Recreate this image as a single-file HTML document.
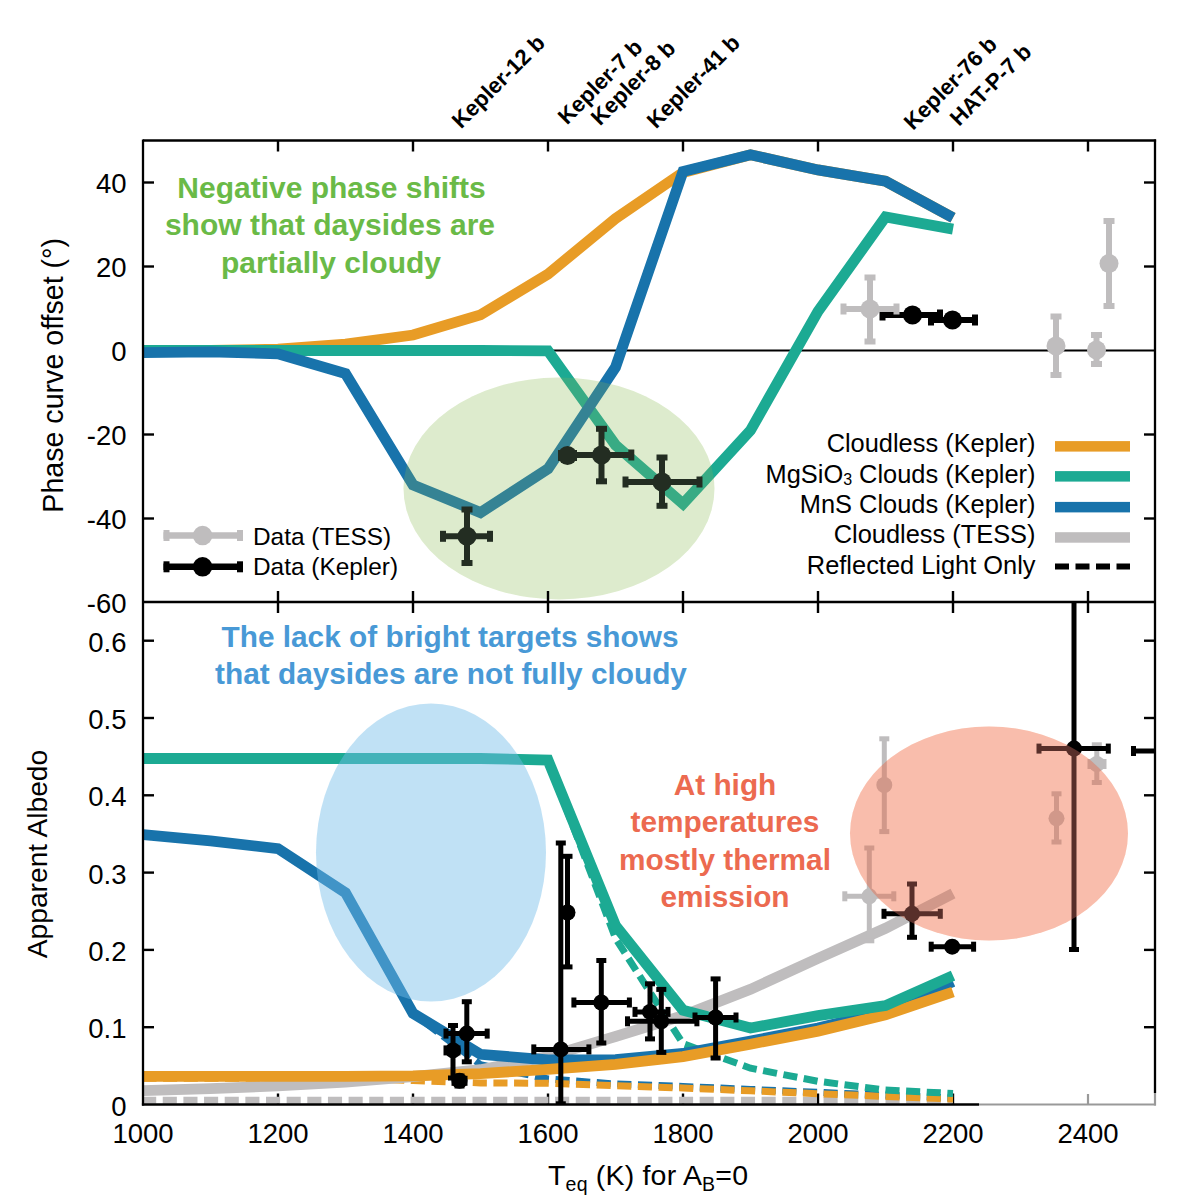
<!DOCTYPE html>
<html><head><meta charset="utf-8">
<style>
html,body{margin:0;padding:0;background:#fff;width:1200px;height:1200px;overflow:hidden}
svg{display:block}
text{font-family:"Liberation Sans",sans-serif}
.b{font-weight:bold}
</style></head><body>
<svg width="1200" height="1200" viewBox="0 0 1200 1200">
<rect width="1200" height="1200" fill="#fff"/>

<defs><clipPath id="cu"><rect x="143" y="140.5" width="1012" height="461.5"/></clipPath><clipPath id="cl"><rect x="143" y="602" width="1012" height="502.5"/></clipPath></defs>
<line x1="143" y1="350.5" x2="1155" y2="350.5" stroke="#000" stroke-width="2.2"/>
<g clip-path="url(#cu)">
<polyline points="143.0,350.5 210.5,350.5 278.0,349.2 345.5,344.2 413.0,335.0 480.5,314.8 548.0,274.1 615.5,218.6 683.0,172.4 750.5,154.8 818.0,169.9 885.5,181.2 953.0,217.8" fill="none" stroke="#e89c26" stroke-width="10.8" stroke-linejoin="miter" stroke-miterlimit="3"/>
<polyline points="143.0,350.5 210.5,350.5 278.0,350.5 345.5,350.5 413.0,350.5 480.5,350.5 548.0,350.9 615.5,445.0 683.0,503.8 750.5,430.3 818.0,311.4 885.5,216.9 953.0,229.1" fill="none" stroke="#1caa93" stroke-width="10.8" stroke-linejoin="miter" stroke-miterlimit="3"/>
<polyline points="143.0,352.6 210.5,351.8 278.0,353.9 345.5,373.6 413.0,484.9 480.5,512.6 548.0,468.9 615.5,367.3 683.0,171.6 750.5,154.8 818.0,169.9 885.5,181.2 953.0,217.8" fill="none" stroke="#1873ab" stroke-width="10.8" stroke-linejoin="miter" stroke-miterlimit="3"/>
<line x1="443.0" y1="536.3" x2="490.0" y2="536.3" stroke="#000" stroke-width="6"/>
<rect x="440.0" y="530.8" width="6" height="11" fill="#000"/>
<rect x="487.0" y="530.8" width="6" height="11" fill="#000"/>
<line x1="467.0" y1="509.5" x2="467.0" y2="563.0" stroke="#000" stroke-width="6"/>
<rect x="461.5" y="506.5" width="11" height="6" fill="#000"/>
<rect x="461.5" y="560.0" width="11" height="6" fill="#000"/>
<circle cx="467.0" cy="536.3" r="9.5" fill="#000"/>
<line x1="561.0" y1="455.5" x2="574.0" y2="455.5" stroke="#000" stroke-width="6"/>
<rect x="558.0" y="450.0" width="6" height="11" fill="#000"/>
<rect x="571.0" y="450.0" width="6" height="11" fill="#000"/>
<circle cx="567.5" cy="455.5" r="9.5" fill="#000"/>
<line x1="567.5" y1="455.0" x2="631.3" y2="455.0" stroke="#000" stroke-width="6"/>
<rect x="564.5" y="449.5" width="6" height="11" fill="#000"/>
<rect x="628.3" y="449.5" width="6" height="11" fill="#000"/>
<line x1="601.5" y1="428.8" x2="601.5" y2="481.3" stroke="#000" stroke-width="6"/>
<rect x="596.0" y="425.8" width="11" height="6" fill="#000"/>
<rect x="596.0" y="478.3" width="11" height="6" fill="#000"/>
<circle cx="601.5" cy="455.0" r="9.5" fill="#000"/>
<line x1="625.5" y1="482.0" x2="699.5" y2="482.0" stroke="#000" stroke-width="6"/>
<rect x="622.5" y="476.5" width="6" height="11" fill="#000"/>
<rect x="696.5" y="476.5" width="6" height="11" fill="#000"/>
<line x1="662.0" y1="457.5" x2="662.0" y2="505.8" stroke="#000" stroke-width="6"/>
<rect x="656.5" y="454.5" width="11" height="6" fill="#000"/>
<rect x="656.5" y="502.8" width="11" height="6" fill="#000"/>
<circle cx="662.0" cy="482.0" r="9.5" fill="#000"/>
<line x1="882.5" y1="315.0" x2="940.0" y2="315.0" stroke="#000" stroke-width="6"/>
<rect x="879.5" y="309.5" width="6" height="11" fill="#000"/>
<rect x="937.0" y="309.5" width="6" height="11" fill="#000"/>
<circle cx="912.5" cy="315.0" r="9.5" fill="#000"/>
<line x1="931.0" y1="320.0" x2="975.0" y2="320.0" stroke="#000" stroke-width="6"/>
<rect x="928.0" y="314.5" width="6" height="11" fill="#000"/>
<rect x="972.0" y="314.5" width="6" height="11" fill="#000"/>
<circle cx="952.5" cy="320.0" r="9.5" fill="#000"/>
<line x1="843.5" y1="309.0" x2="896.5" y2="309.0" stroke="#bfbdbe" stroke-width="6"/>
<rect x="840.5" y="303.5" width="6" height="11" fill="#bfbdbe"/>
<rect x="893.5" y="303.5" width="6" height="11" fill="#bfbdbe"/>
<line x1="870.0" y1="277.5" x2="870.0" y2="341.5" stroke="#bfbdbe" stroke-width="6"/>
<rect x="864.5" y="274.5" width="11" height="6" fill="#bfbdbe"/>
<rect x="864.5" y="338.5" width="11" height="6" fill="#bfbdbe"/>
<circle cx="870.0" cy="309.0" r="9.5" fill="#bfbdbe"/>
<line x1="1056.0" y1="316.5" x2="1056.0" y2="375.0" stroke="#bfbdbe" stroke-width="6"/>
<rect x="1050.5" y="313.5" width="11" height="6" fill="#bfbdbe"/>
<rect x="1050.5" y="372.0" width="11" height="6" fill="#bfbdbe"/>
<circle cx="1056.0" cy="346.0" r="9.5" fill="#bfbdbe"/>
<line x1="1096.5" y1="335.0" x2="1096.5" y2="364.0" stroke="#bfbdbe" stroke-width="6"/>
<rect x="1091.0" y="332.0" width="11" height="6" fill="#bfbdbe"/>
<rect x="1091.0" y="361.0" width="11" height="6" fill="#bfbdbe"/>
<circle cx="1096.5" cy="350.0" r="9.5" fill="#bfbdbe"/>
<line x1="1109.0" y1="221.0" x2="1109.0" y2="306.0" stroke="#bfbdbe" stroke-width="6"/>
<rect x="1103.5" y="218.0" width="11" height="6" fill="#bfbdbe"/>
<rect x="1103.5" y="303.0" width="11" height="6" fill="#bfbdbe"/>
<circle cx="1109.0" cy="263.5" r="9.5" fill="#bfbdbe"/>
<ellipse cx="559" cy="488.5" rx="155.5" ry="111" fill="rgb(248,254,228)" style="mix-blend-mode:multiply"/>
<ellipse cx="559" cy="488.5" rx="155.5" ry="111" fill="rgb(140,180,136)" fill-opacity="0.25"/>
</g>
<g class="b" font-size="30" fill="#6aba47" text-anchor="middle">
<text x="331.5" y="197.8">Negative phase shifts</text>
<text x="330" y="235.2">show that daysides are</text>
<text x="331" y="272.5">partially cloudy</text>
</g>
<g font-size="25.4" fill="#000" text-anchor="end">
<text x="1035.5" y="452.3">Cloudless (Kepler)</text>
<text x="1035.5" y="482.6">MgSiO<tspan font-size="16" dy="2">3</tspan><tspan dy="-2"> Clouds (Kepler)</tspan></text>
<text x="1035.5" y="512.9">MnS Clouds (Kepler)</text>
<text x="1035.5" y="543.2">Cloudless (TESS)</text>
<text x="1035.5" y="573.5">Reflected Light Only</text>
</g>
<rect x="1055" y="441.1" width="75" height="10.5" fill="#e89c26"/>
<rect x="1055" y="471.1" width="75" height="10.5" fill="#1caa93"/>
<rect x="1055" y="501.9" width="75" height="10.5" fill="#1873ab"/>
<rect x="1055" y="532.2" width="75" height="10.5" fill="#bfbdbe"/>
<line x1="1055" y1="566.6" x2="1130" y2="566.6" stroke="#000" stroke-width="6" stroke-dasharray="14,6.5"/>
<line x1="163.5" y1="535.6" x2="243" y2="535.6" stroke="#bfbdbe" stroke-width="6.5"/>
<rect x="163.5" y="530" width="6" height="11" fill="#bfbdbe"/><rect x="237" y="530" width="6" height="11" fill="#bfbdbe"/>
<circle cx="202.6" cy="535.6" r="9.75" fill="#bfbdbe"/>
<line x1="163.5" y1="566.8" x2="243" y2="566.8" stroke="#000" stroke-width="6.5"/>
<rect x="163.5" y="561.3" width="6" height="11" fill="#000"/><rect x="237" y="561.3" width="6" height="11" fill="#000"/>
<circle cx="202.6" cy="566.8" r="9.75" fill="#000"/>
<g font-size="24.4" fill="#000">
<text x="253" y="544.7">Data (TESS)</text>
<text x="253" y="575">Data (Kepler)</text>
</g>
<g stroke="#000" stroke-width="2.4">
<line x1="278.0" y1="1104.5" x2="278.0" y2="1093.5"/>
<line x1="413.0" y1="1104.5" x2="413.0" y2="1093.5"/>
<line x1="548.0" y1="1104.5" x2="548.0" y2="1093.5"/>
<line x1="683.0" y1="1104.5" x2="683.0" y2="1093.5"/>
<line x1="818.0" y1="1104.5" x2="818.0" y2="1093.5"/>
<line x1="953.0" y1="1104.5" x2="953.0" y2="1093.5"/>
</g>
<g clip-path="url(#cl)">
<polyline points="143.0,1100.2 210.5,1100.2 278.0,1100.2 345.5,1100.2 413.0,1100.2 480.5,1100.2 548.0,1100.2 615.5,1100.2 683.0,1100.2 750.5,1100.2 818.0,1100.2 885.5,1100.2 953.0,1100.2" fill="none" stroke="#bfbdbe" stroke-width="7" stroke-linejoin="miter" stroke-miterlimit="3" stroke-dasharray="14.1,6.55" stroke-dashoffset="0.90"/>
<polyline points="143.0,834.7 210.5,840.9 278.0,848.6 345.5,892.7 413.0,1013.3 480.5,1064.7 548.0,1079.0 615.5,1084.0 683.0,1086.5 750.5,1089.4 818.0,1092.3 885.5,1095.2 953.0,1097.9" fill="none" stroke="#1873ab" stroke-width="7" stroke-linejoin="miter" stroke-miterlimit="3" stroke-dasharray="14.1,6.55" stroke-dashoffset="0.36"/>
<polyline points="143.0,1078.2 210.5,1078.2 278.0,1078.2 345.5,1078.2 413.0,1080.5 480.5,1082.9 548.0,1083.3 615.5,1085.7 683.0,1088.0 750.5,1090.8 818.0,1093.7 885.5,1096.4 953.0,1099.1" fill="none" stroke="#e89c26" stroke-width="7" stroke-linejoin="miter" stroke-miterlimit="3" stroke-dasharray="14.1,6.55" stroke-dashoffset="0.56"/>
<polyline points="143.0,758.5 210.5,758.5 278.0,758.5 345.5,758.5 413.0,758.5 480.5,758.5 548.0,760.1 615.5,938.3 683.0,1043.7 750.5,1068.2 818.0,1081.3 885.5,1090.0 953.0,1093.5" fill="none" stroke="#1caa93" stroke-width="7" stroke-linejoin="miter" stroke-miterlimit="3" stroke-dasharray="14.1,6.55" stroke-dashoffset="20.59"/>
<polyline points="143.0,1090.6 210.5,1088.7 278.0,1085.9 345.5,1082.1 413.0,1076.7 480.5,1069.7 548.0,1056.6 615.5,1036.5 683.0,1015.6 750.5,989.3 818.0,958.4 885.5,928.3 953.0,893.5" fill="none" stroke="#bfbdbe" stroke-width="10.8" stroke-linejoin="miter" stroke-miterlimit="3"/>
<polyline points="143.0,834.7 210.5,840.9 278.0,848.6 345.5,892.7 413.0,1013.3 480.5,1054.3 548.0,1060.0 615.5,1059.7 683.0,1053.5 750.5,1041.1 818.0,1028.0 885.5,1011.7 953.0,981.6" fill="none" stroke="#1873ab" stroke-width="10.8" stroke-linejoin="miter" stroke-miterlimit="3"/>
<polyline points="143.0,1076.3 210.5,1076.3 278.0,1076.3 345.5,1076.3 413.0,1075.9 480.5,1073.6 548.0,1069.3 615.5,1064.3 683.0,1056.6 750.5,1044.2 818.0,1031.1 885.5,1014.8 953.0,992.0" fill="none" stroke="#e89c26" stroke-width="10.8" stroke-linejoin="miter" stroke-miterlimit="3"/>
<polyline points="143.0,758.5 210.5,758.5 278.0,758.5 345.5,758.5 413.0,758.5 480.5,758.5 548.0,760.1 615.5,925.5 683.0,1010.2 750.5,1028.0 818.0,1015.6 885.5,1005.6 953.0,975.6" fill="none" stroke="#1caa93" stroke-width="10.8" stroke-linejoin="miter" stroke-miterlimit="3"/>
<line x1="884.3" y1="738.8" x2="884.3" y2="831.6" stroke="#bfbdbe" stroke-width="5"/>
<rect x="879.3" y="736.3" width="10" height="5" fill="#bfbdbe"/>
<rect x="879.3" y="829.1" width="10" height="5" fill="#bfbdbe"/>
<circle cx="884.3" cy="785.0" r="8" fill="#bfbdbe"/>
<line x1="844.8" y1="896.3" x2="893.8" y2="896.3" stroke="#bfbdbe" stroke-width="5"/>
<rect x="842.3" y="891.3" width="5" height="10" fill="#bfbdbe"/>
<rect x="891.3" y="891.3" width="5" height="10" fill="#bfbdbe"/>
<line x1="869.3" y1="848.0" x2="869.3" y2="940.8" stroke="#bfbdbe" stroke-width="5"/>
<rect x="864.3" y="845.5" width="10" height="5" fill="#bfbdbe"/>
<rect x="864.3" y="938.3" width="10" height="5" fill="#bfbdbe"/>
<circle cx="869.3" cy="896.3" r="8" fill="#bfbdbe"/>
<line x1="1056.5" y1="793.8" x2="1056.5" y2="842.0" stroke="#bfbdbe" stroke-width="5"/>
<rect x="1051.5" y="791.3" width="10" height="5" fill="#bfbdbe"/>
<rect x="1051.5" y="839.5" width="10" height="5" fill="#bfbdbe"/>
<circle cx="1056.5" cy="818.3" r="8" fill="#bfbdbe"/>
<line x1="1090.0" y1="764.0" x2="1104.0" y2="764.0" stroke="#bfbdbe" stroke-width="5"/>
<rect x="1087.5" y="759.0" width="5" height="10" fill="#bfbdbe"/>
<rect x="1101.5" y="759.0" width="5" height="10" fill="#bfbdbe"/>
<line x1="1096.8" y1="744.8" x2="1096.8" y2="782.5" stroke="#bfbdbe" stroke-width="5"/>
<rect x="1091.8" y="742.3" width="10" height="5" fill="#bfbdbe"/>
<rect x="1091.8" y="780.0" width="10" height="5" fill="#bfbdbe"/>
<circle cx="1096.8" cy="764.0" r="8" fill="#bfbdbe"/>
<line x1="446.0" y1="1033.6" x2="487.2" y2="1033.6" stroke="#000" stroke-width="5"/>
<rect x="443.5" y="1028.6" width="5" height="10" fill="#000"/>
<rect x="484.7" y="1028.6" width="5" height="10" fill="#000"/>
<line x1="466.8" y1="1001.7" x2="466.8" y2="1061.8" stroke="#000" stroke-width="5"/>
<rect x="461.8" y="999.2" width="10" height="5" fill="#000"/>
<rect x="461.8" y="1059.3" width="10" height="5" fill="#000"/>
<circle cx="466.8" cy="1033.6" r="8" fill="#000"/>
<line x1="446.0" y1="1050.4" x2="458.0" y2="1050.4" stroke="#000" stroke-width="5"/>
<rect x="443.5" y="1045.4" width="5" height="10" fill="#000"/>
<rect x="455.5" y="1045.4" width="5" height="10" fill="#000"/>
<line x1="453.0" y1="1025.5" x2="453.0" y2="1078.0" stroke="#000" stroke-width="5"/>
<rect x="448.0" y="1023.0" width="10" height="5" fill="#000"/>
<rect x="448.0" y="1075.5" width="10" height="5" fill="#000"/>
<circle cx="453.0" cy="1050.4" r="8" fill="#000"/>
<line x1="454.0" y1="1080.8" x2="465.0" y2="1080.8" stroke="#000" stroke-width="5"/>
<rect x="451.5" y="1075.8" width="5" height="10" fill="#000"/>
<rect x="462.5" y="1075.8" width="5" height="10" fill="#000"/>
<line x1="459.5" y1="1076.0" x2="459.5" y2="1086.0" stroke="#000" stroke-width="5"/>
<rect x="454.5" y="1073.5" width="10" height="5" fill="#000"/>
<rect x="454.5" y="1083.5" width="10" height="5" fill="#000"/>
<circle cx="459.5" cy="1080.8" r="8" fill="#000"/>
<line x1="533.8" y1="1049.4" x2="588.9" y2="1049.4" stroke="#000" stroke-width="5"/>
<rect x="531.3" y="1044.4" width="5" height="10" fill="#000"/>
<rect x="586.4" y="1044.4" width="5" height="10" fill="#000"/>
<line x1="560.8" y1="843.0" x2="560.8" y2="1103.8" stroke="#000" stroke-width="5"/>
<rect x="555.8" y="840.5" width="10" height="5" fill="#000"/>
<rect x="555.8" y="1101.3" width="10" height="5" fill="#000"/>
<circle cx="560.8" cy="1049.4" r="8" fill="#000"/>
<line x1="567.5" y1="856.3" x2="567.5" y2="966.9" stroke="#000" stroke-width="5"/>
<rect x="562.5" y="853.8" width="10" height="5" fill="#000"/>
<rect x="562.5" y="964.4" width="10" height="5" fill="#000"/>
<circle cx="567.5" cy="912.5" r="8" fill="#000"/>
<line x1="573.9" y1="1002.5" x2="629.4" y2="1002.5" stroke="#000" stroke-width="5"/>
<rect x="571.4" y="997.5" width="5" height="10" fill="#000"/>
<rect x="626.9" y="997.5" width="5" height="10" fill="#000"/>
<line x1="601.3" y1="960.5" x2="601.3" y2="1043.0" stroke="#000" stroke-width="5"/>
<rect x="596.3" y="958.0" width="10" height="5" fill="#000"/>
<rect x="596.3" y="1040.5" width="10" height="5" fill="#000"/>
<circle cx="601.3" cy="1002.5" r="8" fill="#000"/>
<line x1="635.0" y1="1011.9" x2="668.0" y2="1011.9" stroke="#000" stroke-width="5"/>
<rect x="632.5" y="1006.9" width="5" height="10" fill="#000"/>
<rect x="665.5" y="1006.9" width="5" height="10" fill="#000"/>
<line x1="650.0" y1="983.8" x2="650.0" y2="1038.9" stroke="#000" stroke-width="5"/>
<rect x="645.0" y="981.3" width="10" height="5" fill="#000"/>
<rect x="645.0" y="1036.4" width="10" height="5" fill="#000"/>
<circle cx="650.0" cy="1011.9" r="8" fill="#000"/>
<line x1="627.5" y1="1021.3" x2="696.9" y2="1021.3" stroke="#000" stroke-width="5"/>
<rect x="625.0" y="1016.3" width="5" height="10" fill="#000"/>
<rect x="694.4" y="1016.3" width="5" height="10" fill="#000"/>
<line x1="661.3" y1="989.4" x2="661.3" y2="1052.4" stroke="#000" stroke-width="5"/>
<rect x="656.3" y="986.9" width="10" height="5" fill="#000"/>
<rect x="656.3" y="1049.9" width="10" height="5" fill="#000"/>
<circle cx="661.3" cy="1021.3" r="8" fill="#000"/>
<line x1="695.0" y1="1017.5" x2="736.0" y2="1017.5" stroke="#000" stroke-width="5"/>
<rect x="692.5" y="1012.5" width="5" height="10" fill="#000"/>
<rect x="733.5" y="1012.5" width="5" height="10" fill="#000"/>
<line x1="715.6" y1="978.9" x2="715.6" y2="1058.0" stroke="#000" stroke-width="5"/>
<rect x="710.6" y="976.4" width="10" height="5" fill="#000"/>
<rect x="710.6" y="1055.5" width="10" height="5" fill="#000"/>
<circle cx="715.6" cy="1017.5" r="8" fill="#000"/>
<line x1="884.0" y1="913.8" x2="940.3" y2="913.8" stroke="#000" stroke-width="5"/>
<rect x="881.5" y="908.8" width="5" height="10" fill="#000"/>
<rect x="937.8" y="908.8" width="5" height="10" fill="#000"/>
<line x1="912.0" y1="884.0" x2="912.0" y2="937.3" stroke="#000" stroke-width="5"/>
<rect x="907.0" y="881.5" width="10" height="5" fill="#000"/>
<rect x="907.0" y="934.8" width="10" height="5" fill="#000"/>
<circle cx="912.0" cy="913.8" r="8" fill="#000"/>
<line x1="931.2" y1="946.7" x2="973.6" y2="946.7" stroke="#000" stroke-width="5"/>
<rect x="928.7" y="941.7" width="5" height="10" fill="#000"/>
<rect x="971.1" y="941.7" width="5" height="10" fill="#000"/>
<circle cx="952.2" cy="946.7" r="8" fill="#000"/>
<line x1="1039.0" y1="748.6" x2="1108.3" y2="748.6" stroke="#000" stroke-width="5"/>
<rect x="1036.5" y="743.6" width="5" height="10" fill="#000"/>
<rect x="1105.8" y="743.6" width="5" height="10" fill="#000"/>
<line x1="1074.0" y1="590.0" x2="1074.0" y2="949.5" stroke="#000" stroke-width="5"/>
<rect x="1069.0" y="587.5" width="10" height="5" fill="#000"/>
<rect x="1069.0" y="947.0" width="10" height="5" fill="#000"/>
<circle cx="1074.0" cy="748.6" r="8" fill="#000"/>
<line x1="1133.5" y1="751.0" x2="1260.0" y2="751.0" stroke="#000" stroke-width="5"/>
<rect x="1131.0" y="746.0" width="5" height="10" fill="#000"/>
<rect x="1257.5" y="746.0" width="5" height="10" fill="#000"/>
<circle cx="1200.0" cy="751.0" r="8" fill="#000"/>
<ellipse cx="431" cy="852.5" rx="115" ry="149" fill="rgb(115,189,233)" fill-opacity="0.45"/>
<ellipse cx="989" cy="833.5" rx="139" ry="107" fill="rgb(252,223,203)" style="mix-blend-mode:multiply"/>
<ellipse cx="989" cy="833.5" rx="139" ry="107" fill="rgb(244,131,117)" fill-opacity="0.36"/>
</g>
<g class="b" font-size="29.8" fill="#4899d6" text-anchor="middle">
<text x="450" y="646.8">The lack of bright targets shows</text>
<text x="451" y="683.5">that daysides are not fully cloudy</text>
</g>
<g class="b" font-size="29.8" fill="#ec6a50" text-anchor="middle">
<text x="725" y="794.8">At high</text>
<text x="725" y="832.2">temperatures</text>
<text x="725" y="869.6">mostly thermal</text>
<text x="725" y="907">emission</text>
</g>
<g stroke="#000" stroke-width="2.3" fill="none">
<line x1="143" y1="140.5" x2="1156.1" y2="140.5"/>
<line x1="143" y1="139.4" x2="143" y2="1105.6"/>
<line x1="1155" y1="139.4" x2="1155" y2="1093"/>
<line x1="143" y1="602" x2="1155" y2="602"/>
<line x1="141.9" y1="1104.5" x2="979" y2="1104.5"/>
</g>
<g stroke="#999" stroke-width="2.2" fill="none">
<line x1="979" y1="1104.5" x2="1156" y2="1104.5"/>
<line x1="1155" y1="1093" x2="1155" y2="1105.5"/>
<line x1="1088" y1="1104" x2="1088" y2="1094"/>
</g>
<g stroke="#000" stroke-width="2.4">
<line x1="278.0" y1="140.5" x2="278.0" y2="151.5"/>
<line x1="278.0" y1="591" x2="278.0" y2="613"/>
<line x1="413.0" y1="140.5" x2="413.0" y2="151.5"/>
<line x1="413.0" y1="591" x2="413.0" y2="613"/>
<line x1="548.0" y1="140.5" x2="548.0" y2="151.5"/>
<line x1="548.0" y1="591" x2="548.0" y2="613"/>
<line x1="683.0" y1="140.5" x2="683.0" y2="151.5"/>
<line x1="683.0" y1="591" x2="683.0" y2="613"/>
<line x1="818.0" y1="140.5" x2="818.0" y2="151.5"/>
<line x1="818.0" y1="591" x2="818.0" y2="613"/>
<line x1="953.0" y1="140.5" x2="953.0" y2="151.5"/>
<line x1="953.0" y1="591" x2="953.0" y2="613"/>
<line x1="1088.0" y1="140.5" x2="1088.0" y2="151.5"/>
<line x1="1088.0" y1="591" x2="1088.0" y2="613"/>
<line x1="143" y1="182.5" x2="154" y2="182.5"/>
<line x1="1155" y1="182.5" x2="1144" y2="182.5"/>
<line x1="143" y1="266.5" x2="154" y2="266.5"/>
<line x1="1155" y1="266.5" x2="1144" y2="266.5"/>
<line x1="143" y1="434.5" x2="154" y2="434.5"/>
<line x1="1155" y1="434.5" x2="1144" y2="434.5"/>
<line x1="143" y1="518.5" x2="154" y2="518.5"/>
<line x1="1155" y1="518.5" x2="1144" y2="518.5"/>
<line x1="143" y1="1027.2" x2="154" y2="1027.2"/>
<line x1="1155" y1="1027.2" x2="1144" y2="1027.2"/>
<line x1="143" y1="949.9" x2="154" y2="949.9"/>
<line x1="1155" y1="949.9" x2="1144" y2="949.9"/>
<line x1="143" y1="872.6" x2="154" y2="872.6"/>
<line x1="1155" y1="872.6" x2="1144" y2="872.6"/>
<line x1="143" y1="795.3" x2="154" y2="795.3"/>
<line x1="1155" y1="795.3" x2="1144" y2="795.3"/>
<line x1="143" y1="718.0" x2="154" y2="718.0"/>
<line x1="1155" y1="718.0" x2="1144" y2="718.0"/>
<line x1="143" y1="640.7" x2="154" y2="640.7"/>
<line x1="1155" y1="640.7" x2="1144" y2="640.7"/>
</g>
<g font-size="27.5" fill="#000" text-anchor="end">
<text x="126.5" y="193.0">40</text>
<text x="126.5" y="277.0">20</text>
<text x="126.5" y="361.0">0</text>
<text x="126.5" y="445.0">-20</text>
<text x="126.5" y="529.0">-40</text>
<text x="126.5" y="613.0">-60</text>
<text x="126.5" y="651.7">0.6</text>
<text x="126.5" y="729.0">0.5</text>
<text x="126.5" y="806.3">0.4</text>
<text x="126.5" y="883.6">0.3</text>
<text x="126.5" y="960.9">0.2</text>
<text x="126.5" y="1038.2">0.1</text>
<text x="126.5" y="1115.5">0</text>
</g>
<g font-size="27.5" fill="#000" text-anchor="middle">
<text x="143.0" y="1143.3">1000</text>
<text x="278.0" y="1143.3">1200</text>
<text x="413.0" y="1143.3">1400</text>
<text x="548.0" y="1143.3">1600</text>
<text x="683.0" y="1143.3">1800</text>
<text x="818.0" y="1143.3">2000</text>
<text x="953.0" y="1143.3">2200</text>
<text x="1088.0" y="1143.3">2400</text>
</g>
<text font-size="28.6" fill="#000" text-anchor="middle" transform="translate(63.3,375.3) rotate(-90)">Phase curve offset (°)</text>
<text font-size="28.2" fill="#000" text-anchor="middle" transform="translate(47,854) rotate(-90)">Apparent Albedo</text>
<text font-size="28.5" fill="#000" x="548" y="1184.8" textLength="200" lengthAdjust="spacing">T<tspan font-size="19.5" dy="6">eq</tspan><tspan dy="-6"> (K) for A</tspan><tspan font-size="19.5" dy="6">B</tspan><tspan dy="-6">=0</tspan></text>
<g class="b" font-size="22.2" fill="#000">
<text transform="translate(461.0,129.5) rotate(-45)">Kepler-12 b</text>
<text transform="translate(567.0,125.5) rotate(-45)">Kepler-7 b</text>
<text transform="translate(600.0,126.5) rotate(-45)">Kepler-8 b</text>
<text transform="translate(656.0,129.5) rotate(-45)">Kepler-41 b</text>
<text transform="translate(913.0,131.0) rotate(-45)">Kepler-76 b</text>
<text transform="translate(959.0,127.0) rotate(-45)">HAT-P-7 b</text>
</g>
</svg></body></html>
